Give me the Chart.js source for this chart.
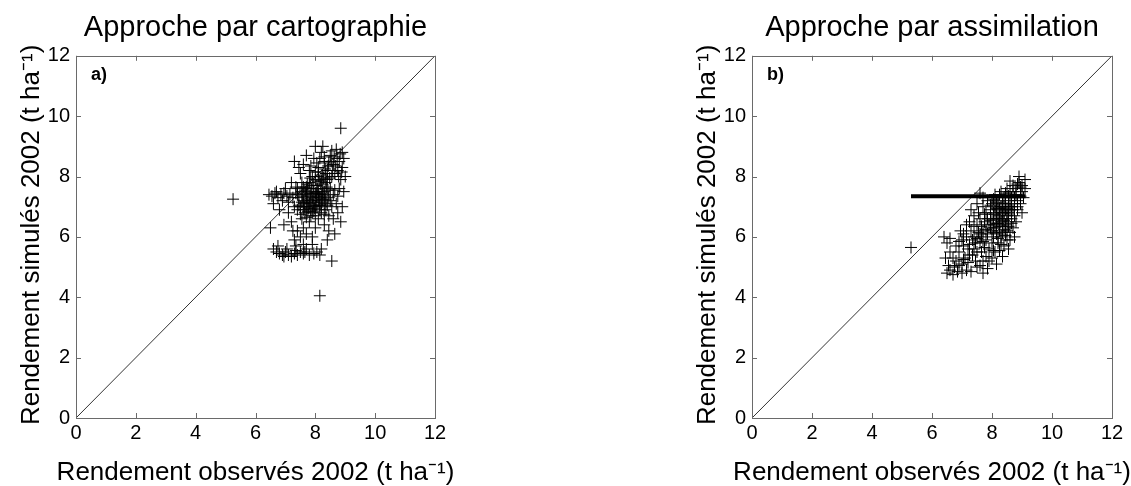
<!DOCTYPE html>
<html><head><meta charset="utf-8">
<script src="https://cdn.jsdelivr.net/npm/chart.js@4.4.0/dist/chart.umd.min.js"></script>
<style>
html,body{margin:0;padding:0;background:#fff;overflow:hidden;width:1131px;height:486px;position:relative;}
canvas{position:absolute;top:0;}
</style></head><body>
<canvas id="c1" width="511" height="486" style="left:0"></canvas>
<canvas id="c2" width="512" height="486" style="left:676px"></canvas>
<script>
// ---- data ----
const axisMin = 0, axisMax = 12, axisStep = 2;
const titleA = 'Approche par cartographie';
const titleB = 'Approche par assimilation';
const xLabel = 'Rendement observés 2002 (t ha⁻¹)';
const yLabel = 'Rendement simulés 2002 (t ha⁻¹)';
const panelA = 'a)', panelB = 'b)';
const diagonal = [[0,0],[12,12]];
const flatLineB = [[5.3,7.35],[9.12,7.35]];

// panel a) : observed, simulated
const pointsA = [
[5.25,7.25],[8.15,4.05],[8.85,9.6],[8.55,5.2],[6.5,6.3],
[6.6,5.6],[6.7,5.5],[6.8,5.45],[6.9,5.4],[7.0,5.5],[7.1,5.4],[7.2,5.35],[7.3,5.45],[7.4,5.4],[7.5,5.5],
[7.6,5.45],[7.7,5.6],[7.8,5.4],[7.95,5.45],[8.05,5.5],[8.15,5.4],[6.75,5.7],[7.05,5.6],[7.35,5.55],
[7.65,5.5],[7.9,5.75],[8.2,5.6],[6.95,5.35],
[7.3,5.9],[7.5,6.0],[7.6,6.3],[7.7,6.1],[7.8,6.5],[7.4,6.2],[7.9,6.0],[8.0,6.3],[8.1,6.6],[7.55,6.6],
[8.3,6.4],[7.85,6.7],[7.2,6.5],[8.6,6.6],[8.45,6.2],
[6.45,7.4],[6.55,7.35],[6.65,7.45],[6.75,7.3],[6.85,7.4],[6.95,7.45],[7.05,7.35],[7.15,7.4],[7.25,7.3],
[7.35,7.45],[6.7,7.5],[6.6,7.1],[6.9,7.2],[7.1,7.15],[7.3,7.0],[6.8,6.9],
[7.5,7.0],[7.6,7.2],[7.7,7.4],[7.8,7.1],[7.9,7.3],[8.0,7.0],[8.1,7.2],[8.2,7.4],[8.3,7.1],[7.65,6.8],
[7.75,7.6],[7.85,6.9],[7.95,7.5],[8.05,7.7],[8.15,6.9],[8.25,7.6],[8.35,7.8],[8.45,7.3],[7.55,7.5],
[7.45,7.3],[7.7,7.0],[7.8,7.8],[7.9,6.8],[8.0,7.9],[8.1,7.5],[8.2,7.0],[8.3,7.5],[8.4,7.9],[8.5,7.6],
[8.55,7.0],[7.6,6.9],[7.75,7.25],[7.95,7.15],[8.05,7.35],[8.15,7.05],[7.85,7.45],[7.65,7.55],[8.25,7.25],
[8.35,6.9],[7.5,6.75],[7.7,6.65],[8.0,6.7],[8.3,6.75],[8.6,7.4],[8.7,7.1],[8.75,6.8],[8.8,7.6],[8.9,7.0],
[8.85,6.5],[7.4,7.6],[7.55,7.8],[7.35,7.65],[8.1,8.0],[7.9,8.0],[8.2,7.85],
[7.3,8.5],[7.45,8.3],[7.6,8.4],[7.8,8.2],[7.95,8.6],[8.1,8.3],[8.2,8.8],[8.3,8.5],[8.4,8.2],[8.5,8.7],
[8.6,8.4],[8.7,8.9],[8.8,8.5],[8.9,8.3],[8.95,8.6],[8.25,9.0],[8.35,8.1],[8.45,8.45],[8.55,8.0],[8.65,8.1],
[8.75,8.2],[8.05,8.45],[7.7,8.7],[8.0,9.0],[8.15,8.6],[9.0,8.0],[8.85,7.9],[8.95,7.5],[8.1,8.15],[7.5,8.1],
[7.0,7.6],[7.2,7.8],[7.1,6.8],[7.4,6.9],[7.25,6.2],[6.95,6.4],[7.35,5.7],[7.6,5.75],[8.4,5.9],[8.65,6.1],
[7.62,7.1],[7.72,7.15],[7.82,7.35],[7.92,7.05],[8.02,7.25],[8.12,7.4],[8.22,7.15],[8.32,7.35],[8.42,7.55],
[7.68,7.45],[7.78,6.95],[7.88,7.6],[7.98,6.95],[8.08,7.6],[8.18,7.75],[8.28,7.95],[8.38,7.65],[8.48,7.95],
[8.58,8.2],[8.68,8.35],[8.78,8.0],[8.88,8.15],[7.58,7.35],[7.73,7.75],[7.83,7.95],[7.93,7.7],[8.03,7.45],
[8.13,7.85],[8.23,8.05],[8.33,8.25],[8.43,8.35],[8.53,8.5],[8.63,8.65],[8.73,8.6],[8.83,8.75],[7.65,7.0],
[7.75,6.85],[7.95,6.85],[8.05,7.05],[8.2,6.8],[8.4,7.05],[8.5,7.2],[8.65,7.55],[8.75,7.35],[8.45,6.7],
[7.85,7.2],[7.7,7.65],[8.0,7.45],[8.15,7.3],[8.25,7.45],[8.35,7.25],[7.55,7.15],[7.45,7.05],[7.4,7.4],
[8.9,8.8],[8.0,8.15],[7.85,8.35],[8.3,8.65],[8.55,8.85],[7.6,7.65]
];

// panel b) : observed, simulated
const pointsB = [
[5.3,5.65],
[6.5,4.8],[6.6,4.9],[6.7,4.75],[6.85,4.85],[7.0,4.8],[7.15,4.9],[7.3,4.85],[7.5,5.0],[7.7,4.8],[7.85,4.95],
[6.55,5.05],[6.75,5.0],[7.0,5.1],
[6.4,6.0],[6.5,5.8],[6.6,5.5],[6.7,5.3],[6.45,5.3],[6.6,5.95],[6.8,5.7],[6.9,5.5],[7.0,5.9],[7.1,5.3],
[7.2,5.6],[7.3,6.2],[7.4,6.0],[7.5,5.5],[7.6,5.8],[7.7,5.2],[7.2,5.15],[7.35,5.4],[6.95,6.2],[7.15,6.4],[7.05,5.7],
[7.5,6.4],[7.6,6.6],[7.7,6.2],[7.8,6.8],[7.9,6.4],[8.0,6.6],[8.1,6.3],[8.2,6.9],[8.3,6.5],[8.4,7.0],
[8.5,6.7],[8.6,7.2],[7.65,6.0],[7.75,6.5],[7.85,6.1],[7.95,6.9],[8.05,6.0],[8.15,6.6],[8.25,6.2],[8.35,6.8],
[8.45,6.4],[8.55,7.0],[8.65,6.6],[8.75,7.1],[7.8,5.9],[7.9,5.6],[8.0,5.8],[8.1,5.5],[8.2,5.8],[8.3,6.0],
[8.4,5.7],[8.5,6.2],[8.6,5.9],[7.55,6.8],[7.7,7.0],[7.85,7.2],[8.0,7.1],[8.1,7.4],[8.2,7.2],[8.3,7.5],
[8.4,7.3],[8.5,7.6],[8.6,7.5],[8.7,7.7],[8.8,7.4],[8.9,7.8],[9.0,7.5],[9.1,7.9],[8.95,7.1],[8.85,6.9],
[9.05,7.3],[9.0,6.8],[8.8,6.5],[8.7,6.3],[7.6,7.45],[7.7,7.3],[7.5,7.1],[7.4,6.7],[7.3,6.9],[7.25,6.5],
[8.05,6.4],[8.15,6.95],[8.25,6.7],[8.35,6.35],[8.45,6.9],[8.0,6.2],[7.95,6.55],[8.1,6.75],[8.2,6.45],[8.3,6.8],
[8.4,6.55],[8.5,6.95],[8.55,6.5],[8.65,7.3],[8.7,6.9],[7.45,5.8],[7.55,6.15],[7.65,5.5],[7.75,5.65],[7.9,5.2],
[8.0,5.3],[8.15,5.1],[8.35,5.35],[8.55,5.6],[8.75,6.0],[7.45,5.2],[7.6,5.05],[7.8,5.35],[8.25,5.55],[8.95,7.65],
[9.1,7.6],[8.85,7.75],[8.6,7.85],[8.9,8.0],
[8.05,6.8],[8.15,6.45],[8.25,6.95],[8.35,6.6],[8.45,7.1],[8.55,6.8],[8.65,7.0],[8.75,7.3],[8.85,7.2],
[7.95,6.3],[8.05,6.15],[8.15,6.1],[8.25,6.35],[8.35,6.15],[8.45,6.05],[8.55,6.35],[8.65,6.45],[8.75,6.7],
[8.85,7.0],[8.95,7.35],[7.85,6.6],[7.75,6.75],[7.65,6.35],[7.95,7.05],[8.05,7.25],[8.15,7.15],[8.25,7.4],
[8.35,7.1],[8.45,7.45],[8.55,7.35],[8.7,7.5],[8.8,7.6],[9.0,7.7],[8.05,5.55],[8.2,5.95],[8.3,5.75],
[8.4,6.25],[8.5,5.9],[8.6,6.15],[7.8,6.25],[7.7,5.85],[7.6,6.1],[7.5,5.95],[7.4,6.35],[7.35,5.9],
[7.25,5.75],[7.15,6.0],[7.05,6.1],[6.9,5.85],[6.8,5.2],[6.9,5.05],[7.05,5.25],[7.25,5.4],[7.4,5.6],
[8.1,7.0],[8.3,7.0],[8.5,6.6],[8.6,6.9],[8.4,6.8],[8.2,6.6]
];

// ---- rendering ----
const FONT = "'Liberation Sans', Arial, sans-serif";
const toXY = arr => arr.map(p => ({x:p[0], y:p[1]}));

const framePlugin = {
  id:'frame',
  afterDatasetsDraw(chart){
    const {ctx, chartArea:a, scales:{x,y}} = chart;
    const o = chart.options.plugins.frame;
    ctx.save();
    ctx.strokeStyle = '#6a6a6a';
    ctx.lineWidth = 1;
    ctx.strokeRect(Math.round(a.left)+0.5, Math.round(a.top)+0.5, Math.round(a.right-a.left), Math.round(a.bottom-a.top));
    const L = 5;
    ctx.beginPath();
    x.ticks.forEach(t => {
      const px = Math.round(x.getPixelForValue(t.value))+0.5;
      ctx.moveTo(px, a.bottom); ctx.lineTo(px, a.bottom-L);
      ctx.moveTo(px, a.top); ctx.lineTo(px, a.top+L);
    });
    y.ticks.forEach(t => {
      const py = Math.round(y.getPixelForValue(t.value))+0.5;
      ctx.moveTo(a.left, py); ctx.lineTo(a.left+L, py);
      ctx.moveTo(a.right, py); ctx.lineTo(a.right-L, py);
    });
    ctx.stroke();
    ctx.fillStyle = '#000';
    // panel letter
    ctx.font = "bold 18px " + FONT;
    ctx.textBaseline = 'middle';
    ctx.textAlign = 'left';
    ctx.fillText(o.label, x.getPixelForValue(o.lx), y.getPixelForValue(o.ly));
    // axis titles (drawn without width compression)
    ctx.font = o.titleSize + "px " + FONT;
    ctx.textAlign = 'center';
    ctx.textBaseline = 'alphabetic';
    ctx.fillText(o.xTitle, (a.left + a.right) / 2, o.xTitleBaseline);
    ctx.translate(o.yTitleBaseline, (a.top + a.bottom) / 2 - 2);
    ctx.rotate(-Math.PI / 2);
    ctx.fillText(o.yTitle, 0, 0);
    ctx.restore();
  }
};

function makeChart(id, title, label, pts, extra){
  const datasets = [
    {type:'scatter', data:toXY(pts), pointStyle:'cross', pointRadius:6, pointHoverRadius:6,
     borderColor:'#000', backgroundColor:'#000', pointBorderWidth:1, showLine:false, order:2},
    {type:'scatter', data:toXY(diagonal), showLine:true, pointRadius:0, borderColor:'#333',
     borderWidth:1, order:3}
  ];
  if (extra) datasets.push({type:'scatter', data:toXY(extra), showLine:true, pointRadius:0,
     borderColor:'#000', borderWidth:4, order:1});
  return new Chart(document.getElementById(id), {
    type:'scatter',
    data:{datasets},
    options:{
      responsive:false, animation:false,
      layout:{padding:0},
      plugins:{
        legend:{display:false}, tooltip:{enabled:false},
        title:{display:true, text:title, color:'#000', font:{family:FONT,size:29,weight:'normal'}, padding:{top:11,bottom:10}},
        frame:{label, lx:0.5, ly:11.35, xTitle:xLabel, yTitle:yLabel, titleSize:26,
               xTitleBaseline:480, yTitleBaseline:39}
      },
      scales:{
        x:{type:'linear', min:axisMin, max:axisMax,
           ticks:{stepSize:axisStep, color:'#000', font:{family:FONT,size:20}, padding:3, maxRotation:0},
           grid:{display:false, drawTicks:false}, border:{display:false},
           afterFit(s){ s.height = 68; }
        },
        y:{type:'linear', min:axisMin, max:axisMax,
           ticks:{stepSize:axisStep, color:'#000', font:{family:FONT,size:20}, padding:6},
           grid:{display:false, drawTicks:false}, border:{display:false},
           afterFit(s){ s.width = 76; }
        },
        yRight:{type:'linear', position:'right', min:axisMin, max:axisMax,
           ticks:{display:false}, grid:{display:false, drawTicks:false}, border:{display:false},
           afterFit(s){ s.width = 76; }
        }
      }
    },
    plugins:[framePlugin]
  });
}
makeChart('c1', titleA, panelA, pointsA, null);
makeChart('c2', titleB, panelB, pointsB, flatLineB);
</script>
</body></html>
